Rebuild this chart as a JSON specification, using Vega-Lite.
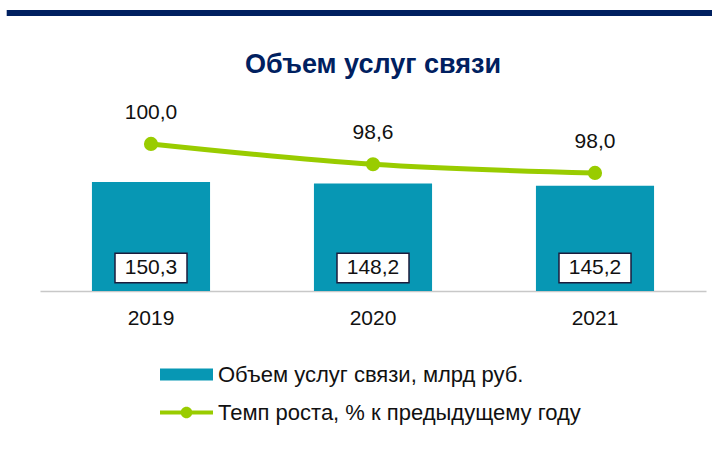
{
  "$schema": "https://vega.github.io/schema/vega-lite/v6.json",
  "width": 666,
  "height": 191,
  "autosize": "none",
  "padding": {"left": 40, "top": 100, "right": 6, "bottom": 161},
  "background": "white",
  "config": {
    "view": {"stroke": null},
    "font": "Liberation Sans",
    "locale": {"number": {"decimal": ",", "thousands": " ", "grouping": [3], "currency": ["", ""]}}
  },
  "title": {
    "text": "Объем услуг связи",
    "fontSize": 27,
    "fontWeight": "bold",
    "color": "#002060",
    "anchor": "middle",
    "baseline": "alphabetic",
    "offset": 27,
    "dy": 117
  },
  "datasets": {
    "main": [
      {"year": "2019", "series": "Объем услуг связи, млрд руб.", "value": 150.3},
      {"year": "2020", "series": "Объем услуг связи, млрд руб.", "value": 148.2},
      {"year": "2021", "series": "Объем услуг связи, млрд руб.", "value": 145.2},
      {"year": "2019", "series": "Темп роста, % к предыдущему году", "value": 100.0},
      {"year": "2020", "series": "Темп роста, % к предыдущему году", "value": 98.6},
      {"year": "2021", "series": "Темп роста, % к предыдущему году", "value": 98.0}
    ],
    "header": [{"name": "header"}]
  },
  "layer": [
    {
      "data": {"name": "header"},
      "mark": {"type": "rule", "color": "#002060", "strokeWidth": 6},
      "encoding": {
        "x": {"datum": -0.05, "type": "quantitative", "scale": {"domain": [0, 1]}, "axis": null},
        "x2": {"datum": 1.01},
        "y": {"datum": 1.455, "type": "quantitative", "scale": {"domain": [0, 1]}, "axis": null}
      }
    },
    {
      "data": {"name": "main"},
      "encoding": {
        "x": {
          "field": "year",
          "type": "nominal",
          "scale": {"paddingInner": 0.468, "paddingOuter": 0.234},
          "axis": {
            "title": null,
            "labelAngle": 0,
            "labelFontSize": 21,
            "labelColor": "#111111",
            "labelPadding": 16,
            "ticks": false,
            "domainColor": "#c8c8c8",
            "domainWidth": 1.5,
            "grid": false
          }
        }
      },
      "layer": [
        {
          "transform": [{"filter": "datum.series === 'Объем услуг связи, млрд руб.'"}],
          "encoding": {
            "y": {"field": "value", "type": "quantitative", "scale": {"domain": [0, 263.4], "nice": false, "zero": false}, "axis": null}
          },
          "layer": [
            {
              "mark": {"type": "bar", "color": "#0797b4"},
              "encoding": {
                "color": {
                  "field": "series",
                  "type": "nominal",
                  "scale": {
                    "domain": ["Объем услуг связи, млрд руб.", "Темп роста, % к предыдущему году"],
                    "range": ["#0797b4", "#99cc00"]
                  },
                  "legend": {
                    "title": null,
                    "orient": "none",
                    "legendX": 120,
                    "legendY": 248,
                    "direction": "vertical",
                    "labelFontSize": 22,
                    "labelColor": "#111111",
                    "labelOffset": 5,
                    "labelLimit": 600,
                    "symbolSize": 2809,
                    "symbolStrokeWidth": 0,
                    "rowPadding": -16,
                    "encode": {
                      "symbols": {
                        "update": {
                          "shape": {"signal": "datum.value === 'Объем услуг связи, млрд руб.' ? 'M-1,-0.23H1V0.23H-1Z' : 'M-1,-0.08H1V0.08H-1Z M-0.22,0A0.22,0.22 0 1,1 0.22,0A0.22,0.22 0 1,1 -0.22,0Z'"},
                          "fill": {"signal": "datum.value === 'Объем услуг связи, млрд руб.' ? '#0797b4' : '#99cc00'"},
                          "fillOpacity": {"value": 1},
                          "stroke": {"value": "transparent"},
                          "strokeWidth": {"value": 0}
                        }
                      }
                    }
                  }
                }
              }
            },
            {
              "mark": {
                "type": "point",
                "shape": "M-1,-0.41H1V0.41H-1Z",
                "size": 5184,
                "filled": true,
                "fill": "white",
                "fillOpacity": 1,
                "stroke": "#1c1c3c",
                "strokeWidth": 1.5,
                "opacity": 1
              },
              "encoding": {"y": {"datum": 0, "type": "quantitative"}, "yOffset": {"value": -23}}
            },
            {
              "mark": {"type": "text", "fontSize": 21, "color": "#111111", "baseline": "middle", "dy": -23},
              "encoding": {
                "y": {"datum": 0, "type": "quantitative"},
                "text": {"field": "value", "type": "quantitative", "format": ".1f"}
              }
            }
          ]
        },
        {
          "transform": [{"filter": "datum.series === 'Темп роста, % к предыдущему году'"}],
          "encoding": {
            "y": {"field": "value", "type": "quantitative", "scale": {"domain": [89.86, 103.03], "nice": false, "zero": false}, "axis": null}
          },
          "layer": [
            {
              "mark": {"type": "line", "strokeWidth": 5, "interpolate": "monotone", "color": "#99cc00"},
              "encoding": {
                "color": {"field": "series", "type": "nominal"}
              }
            },
            {
              "mark": {"type": "point", "filled": true, "size": 200, "color": "#99cc00", "opacity": 1}
            },
            {
              "mark": {"type": "text", "fontSize": 21, "color": "#111111", "baseline": "middle", "dy": -31},
              "encoding": {
                "text": {"field": "value", "type": "quantitative", "format": ".1f"}
              }
            }
          ]
        }
      ],
      "resolve": {"scale": {"y": "independent"}}
    }
  ],
  "resolve": {"scale": {"x": "independent", "y": "independent"}}
}
